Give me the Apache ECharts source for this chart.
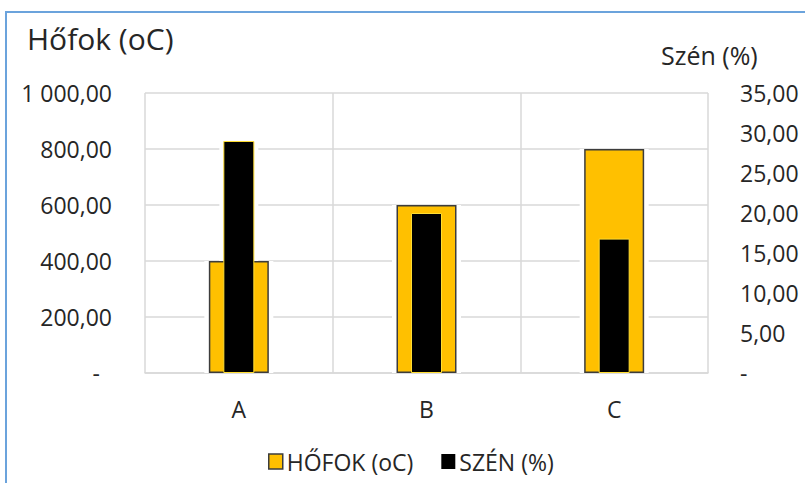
<!DOCTYPE html>
<html>
<head>
<meta charset="utf-8">
<script src="https://cdn.jsdelivr.net/npm/echarts@6/dist/echarts.min.js"></script>
<style>
  html, body { margin: 0; padding: 0; background: #fff; }
  #wrap { position: relative; width: 805px; height: 483px; overflow: hidden; }
  #frame { position: absolute; left: 5px; top: 11px; width: 900px; height: 600px;
           border-left: 2px solid #6ba3dc; border-top: 2px solid #6ba3dc; }
  #chart { position: absolute; left: 0; top: 0; width: 805px; height: 483px; }
</style>
</head>
<body>
<div id="wrap">
  <div id="frame"></div>
  <div id="chart"></div>
</div>
<script>
// Categories and measured values
const categories = ['A', 'B', 'C'];
const hofok = [400, 600, 800];       // temperature, °C (left axis)
const szen = [29, 20, 16.8];         // carbon content, % (right axis)

const leftTicks = { min: 0, max: 1000, interval: 200 };
const rightTicks = { min: 0, max: 35, interval: 5 };

const FONT = 'Open Sans';
const TXT = '#262626';

// Hungarian number style: space thousands separator, comma decimals, "-" for zero
function huNum(v) {
  const s = Math.abs(v).toFixed(2).split('.');
  const intPart = s[0].replace(/\B(?=(\d{3})+(?!\d))/g, ' ');
  return intPart + ',' + s[1];
}

const chart = echarts.init(document.getElementById('chart'), null, { renderer: 'svg' });

const barYellow = '#FFC000';
const barBorder = '#3c3c3c';

// each bar series sits on its own category axis so every bar is centred on its category
const hiddenCat = () => ({ type: 'category', data: categories, boundaryGap: true, show: false });

chart.setOption({
  animation: false,
  backgroundColor: 'transparent',
  textStyle: { fontFamily: FONT, color: TXT },
  title: [
    { text: 'Hőfok (oC)', left: 27, top: 23, padding: 0,
      textStyle: { fontFamily: FONT, fontSize: 30, fontWeight: 'normal', color: TXT } },
    { text: 'Szén (%)', left: 661, top: 42, padding: 0,
      textStyle: { fontFamily: FONT, fontSize: 25, fontWeight: 'normal', color: TXT } }
  ],
  legend: {
    left: 263, top: 445,
    itemWidth: 14, itemHeight: 15, itemGap: 28,
    textStyle: { fontFamily: FONT, fontSize: 23, color: TXT, padding: [0, 0, 0, -1] },
    selectedMode: false,
    data: [
      { name: 'HŐFOK (oC)', icon: 'rect', itemStyle: { color: barYellow, borderColor: barBorder, borderWidth: 1.5 } },
      { name: 'SZÉN (%)', icon: 'rect', itemStyle: { color: '#000', borderWidth: 0 } }
    ]
  },
  grid: { left: 145, right: 97, top: 93, bottom: 110, containLabel: false },
  xAxis: [
    {
      type: 'category', data: categories, boundaryGap: true,
      axisLine: { show: true, lineStyle: { color: '#d9d9d9', width: 1.5 } },
      axisTick: { show: false },
      splitLine: { show: true, lineStyle: { color: '#d9d9d9', width: 1.5 } },
      axisLabel: { fontFamily: FONT, fontSize: 23, color: TXT, margin: 24 }
    },
    hiddenCat(),
    hiddenCat(),
    hiddenCat()
  ],
  yAxis: [
    {
      type: 'value', min: leftTicks.min, max: leftTicks.max, interval: leftTicks.interval,
      position: 'left',
      axisLine: { show: false }, axisTick: { show: false },
      splitLine: { show: true, lineStyle: { color: '#d9d9d9', width: 1.5 } },
      axisLabel: {
        fontFamily: FONT, fontSize: 23, color: TXT, margin: 33, align: 'right',
        formatter: v => v === 0 ? '{z|-}' : huNum(v),
        rich: { z: { fontFamily: FONT, fontSize: 23, color: TXT, padding: [0, 12, 0, 0] } }
      }
    },
    {
      type: 'value', min: rightTicks.min, max: rightTicks.max, interval: rightTicks.interval,
      position: 'right',
      axisLine: { show: false }, axisTick: { show: false },
      splitLine: { show: false },
      axisLabel: {
        fontFamily: FONT, fontSize: 23, color: TXT, margin: 32, align: 'left',
        formatter: v => v === 0 ? '-' : huNum(v)
      }
    }
  ],
  series: [
    // white halos that break the gridlines around each bar
    { name: 'halo1', type: 'bar', xAxisIndex: 2, yAxisIndex: 0, data: hofok,
      barWidth: 69, itemStyle: { color: '#fff' }, silent: true, z: 2 },
    { name: 'halo2', type: 'bar', xAxisIndex: 3, yAxisIndex: 1, data: szen,
      barWidth: 39, itemStyle: { color: '#fff' }, silent: true, z: 2 },
    { name: 'HŐFOK (oC)', type: 'bar', xAxisIndex: 0, yAxisIndex: 0, data: hofok,
      barWidth: 60, z: 3,
      itemStyle: { color: barYellow, borderColor: barBorder, borderWidth: 1.5 },
      emphasis: { disabled: true } },
    { name: 'SZÉN (%)', type: 'bar', xAxisIndex: 1, yAxisIndex: 1, data: szen,
      barWidth: 31, z: 4,
      itemStyle: { color: '#000', borderColor: '#ffdd33', borderWidth: 1 },
      emphasis: { disabled: true } }
  ]
});
</script>
</body>
</html>
